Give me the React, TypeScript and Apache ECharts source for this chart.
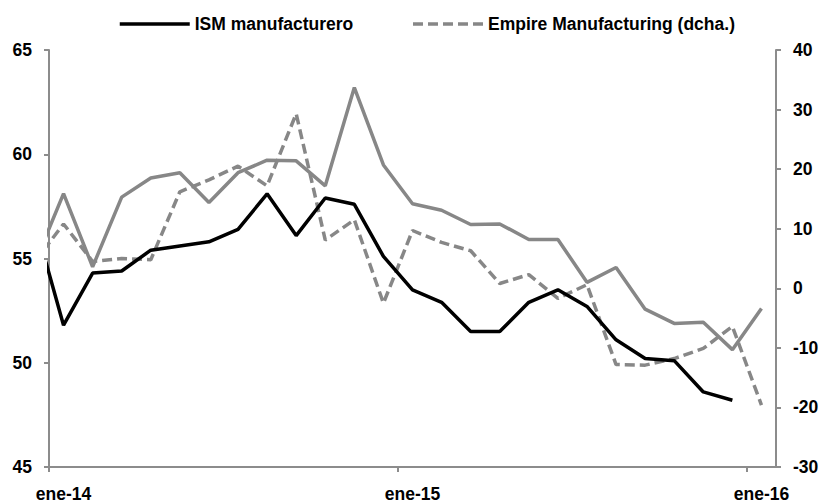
import React, { useEffect, useRef } from "react";
import * as echarts from "echarts";

// Monthly observations, dic-13 .. ene-16
const months = [
  "dic-13", "ene-14", "feb-14", "mar-14", "abr-14", "may-14", "jun-14", "jul-14", "ago-14", "sep-14", "oct-14", "nov-14", "dic-14",
  "ene-15", "feb-15", "mar-15", "abr-15", "may-15", "jun-15", "jul-15", "ago-15", "sep-15", "oct-15", "nov-15", "dic-15", "ene-16",
];

// ISM manufacturero (left axis), dic-13 .. dic-15
const ismManufacturero = [
  56.8, 51.8, 54.3, 54.4, 55.4, 55.6, 55.8, 56.4, 58.1, 56.1, 57.9, 57.6, 55.1,
  53.5, 52.9, 51.5, 51.5, 52.9, 53.5, 52.7, 51.1, 50.2, 50.1, 48.6, 48.2,
];

// Empire Manufacturing (right axis), dic-13 .. ene-16
const empireManufacturing = [
  4.4, 10.8, 4.5, 5.0, 4.8, 16.2, 18.2, 20.5, 17.2, 29.3, 8.1, 11.5, -2.5,
  9.7, 7.7, 6.3, 0.8, 2.3, -1.7, 0.6, -12.8, -12.9, -11.8, -10.1, -6.4, -19.6,
];

// Third series drawn in solid grey without legend entry (right axis), dic-13 .. ene-16
const greySeries = [
  4.1, 15.9, 3.6, 15.3, 18.5, 19.4, 14.4, 19.4, 21.5, 21.4, 17.2, 33.7, 20.7,
  14.2, 13.1, 10.7, 10.8, 8.2, 8.2, 1.0, 3.5, -3.5, -5.9, -5.7, -10.3, -3.4,
];

// Axis labels
const xTickLabels = ["ene-14", "ene-15", "ene-16"];
const leftTicks = { min: 45, max: 65, interval: 5 };
const rightTicks = { min: -30, max: 40, interval: 10 };

const FONT = "'Liberation Sans', Arial, sans-serif";
const GREY = "#878787";
const AXIS_GREY = "#8c8c8c";

// months since ene-14 tick; observations sit mid-month
const toXY = (vals: number[]) => vals.map((v, i) => [i - 0.5, v]);

export default function App() {
  const ref = useRef<HTMLDivElement>(null);

  useEffect(() => {
    if (!ref.current) return;
    const chart = echarts.init(ref.current, undefined, { renderer: "svg" });
    const labelPos = xTickLabels.map((_, i) => i * 12 + 0.5);
    const tickPos = xTickLabels.map((_, i) => i * 12);
    const textStyle = { fontFamily: FONT, fontWeight: "bold" as const, fontSize: 17.5, color: "#000" };

    chart.setOption({
      animation: false,
      backgroundColor: "#fff",
      textStyle: { fontFamily: FONT },
      legend: {
        data: ["ISM manufacturero", "Empire Manufacturing (dcha.)"],
        left: 113,
        top: 10,
        itemWidth: 70,
        itemHeight: 16,
        itemGap: 58,
        itemStyle: { opacity: 0, borderWidth: 0 },
        lineStyle: { width: 3.5, type: "inherit" },
        textStyle: { ...textStyle },
      },
      grid: { left: 49, right: 46, top: 50, bottom: 37, containLabel: false },
      xAxis: {
        type: "value",
        min: 0,
        max: 25,
        splitLine: { show: false },
        axisLine: { show: true, onZero: false, lineStyle: { color: AXIS_GREY, width: 2 } },
        axisTick: { show: true, length: 5, customValues: tickPos, lineStyle: { color: AXIS_GREY, width: 2 } },
        axisLabel: {
          ...textStyle,
          margin: 18,
          customValues: labelPos,
          formatter: (v: number) => xTickLabels[Math.round((v - 0.5) / 12)] ?? "",
        },
      },
      yAxis: [
        {
          type: "value",
          position: "left",
          min: leftTicks.min,
          max: leftTicks.max,
          interval: leftTicks.interval,
          splitLine: { show: false },
          axisLine: { show: true, onZero: false, lineStyle: { color: AXIS_GREY, width: 2 } },
          axisTick: { show: true, length: 5, lineStyle: { color: AXIS_GREY, width: 2 } },
          axisLabel: { ...textStyle, margin: 17 },
        },
        {
          type: "value",
          position: "right",
          min: rightTicks.min,
          max: rightTicks.max,
          interval: rightTicks.interval,
          splitLine: { show: false },
          axisLine: { show: true, onZero: false, lineStyle: { color: AXIS_GREY, width: 2 } },
          axisTick: { show: true, length: 5, lineStyle: { color: AXIS_GREY, width: 2 } },
          axisLabel: { ...textStyle, margin: 17 },
        },
      ],
      series: [
        {
          name: "Grey",
          type: "line",
          yAxisIndex: 1,
          data: toXY(greySeries),
          symbol: "none",
          clip: true,
          lineStyle: { color: GREY, width: 3.5 },
          itemStyle: { color: GREY },
          z: 1,
        },
        {
          name: "Empire Manufacturing (dcha.)",
          type: "line",
          yAxisIndex: 1,
          data: toXY(empireManufacturing),
          symbol: "none",
          clip: true,
          lineStyle: { color: GREY, width: 3.5, type: [10, 5] },
          itemStyle: { color: GREY },
          z: 2,
        },
        {
          name: "ISM manufacturero",
          type: "line",
          yAxisIndex: 0,
          data: toXY(ismManufacturero),
          symbol: "none",
          clip: true,
          lineStyle: { color: "#000", width: 3.5 },
          itemStyle: { color: "#000" },
          z: 3,
        },
      ],
    });
    return () => chart.dispose();
  }, []);

  return <div ref={ref} style={{ width: 822, height: 504, position: "absolute", left: 0, top: 0 }} />;
}
